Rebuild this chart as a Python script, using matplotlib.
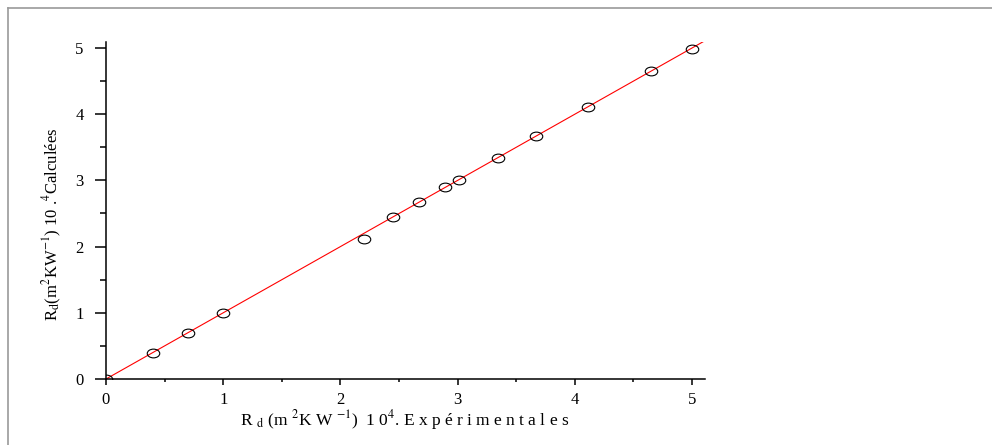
import numpy as np
import matplotlib
matplotlib.use("Agg")
import matplotlib.pyplot as plt
from matplotlib.path import Path
from matplotlib.transforms import Affine2D
from matplotlib.lines import Line2D
from matplotlib.ticker import MultipleLocator

plt.rcParams["font.family"] = ["Liberation Serif", "DejaVu Serif"]
plt.rcParams["mathtext.fontset"] = "stix"

rd_exp = [0.0, 0.40, 0.70, 1.00, 2.20, 2.45, 2.67, 2.89, 3.01, 3.345, 3.67, 4.11, 4.65, 5.00]
rd_calc = [0.0, 0.40, 0.69, 0.99, 2.11, 2.45, 2.67, 2.90, 3.00, 3.34, 3.67, 4.11, 4.65, 4.99]
# fitted line y = x over the whole axis
fit_x = [0.0, 5.11]
fit_y = [0.0, 5.11]

W, H = 992, 445
fig = plt.figure(figsize=(W / 100, H / 100), dpi=100)
ax = fig.add_axes([106 / W, 1 - 379 / H, 599 / W, 337 / H])

ellipse = Path.unit_circle().transformed(Affine2D().scale(1.0, 0.7))

ax.plot(fit_x, fit_y, color="red", lw=0.8, zorder=2)
ax.plot(rd_exp, rd_calc, ls="none", marker=ellipse, ms=9, mfc="none",
        mec="black", mew=0.8, zorder=3)

ax.set_xlim(0, 5.11)
ax.set_ylim(0, 5.09)
for s in ("top", "right"):
    ax.spines[s].set_visible(False)
for s in ("left", "bottom"):
    ax.spines[s].set_linewidth(1.1)
ax.xaxis.set_major_locator(MultipleLocator(1))
ax.xaxis.set_minor_locator(MultipleLocator(0.5))
ax.yaxis.set_major_locator(MultipleLocator(1))
ax.yaxis.set_minor_locator(MultipleLocator(0.5))
ax.tick_params(axis="x", which="major", direction="out", length=4.5, width=1.1,
               labelsize=12, pad=4.5)
ax.tick_params(axis="x", which="minor", direction="out", length=2.5, width=1.1)
ax.tick_params(axis="y", which="major", direction="out", length=8, width=1.1,
               labelsize=12, pad=8)
ax.tick_params(axis="y", which="minor", direction="out", length=4.5, width=1.1)

fig.text(405 / W, 1 - 425 / H,
         r"R $_{\rm d}$ (m $^{2}$K W $^{-1}$)  1 0$^{4}$. E x p é r i m e n t a l e s",
         ha="center", va="baseline", fontsize=12.5)
fig.text(58 / W, 1 - 224 / H,
         r"R$_{\rm d}$(m$^{2}$KW$^{-1}$) 10 .$^{4}$Calculées",
         ha="center", va="baseline", rotation=90, rotation_mode="anchor",
         fontsize=12)

# outer frame (top and left edges visible)
gray = "#9a9a9a"
fig.add_artist(Line2D([7.5 / W, 1], [1 - 7.5 / H, 1 - 7.5 / H], color=gray, lw=1.2))
fig.add_artist(Line2D([7.5 / W, 7.5 / W], [0, 1 - 7.5 / H], color=gray, lw=1.2))

fig.savefig("out.png", dpi=100, facecolor="white")
